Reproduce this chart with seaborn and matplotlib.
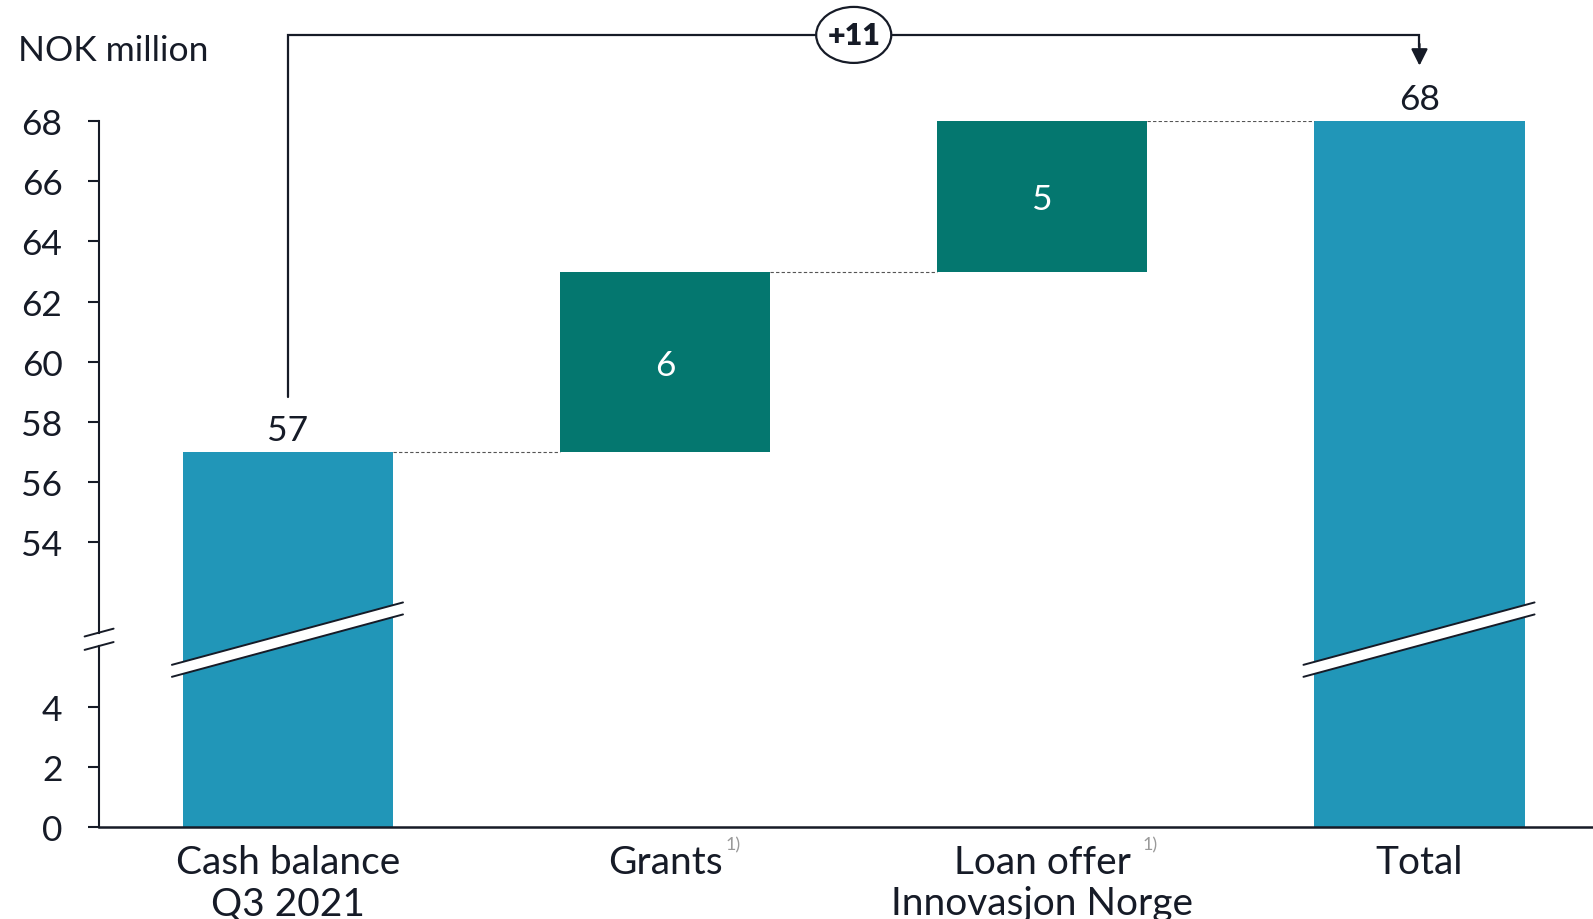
import numpy as np
import pandas as pd
import matplotlib
matplotlib.use("Agg")
import matplotlib.pyplot as plt
import seaborn as sns
from matplotlib.patches import Ellipse, Polygon
from matplotlib.lines import Line2D

# ---------------- data ----------------
categories = ["Cash balance\nQ3 2021", "Grants", "Loan offer\nInnovasjon Norge", "Total"]
values = [57, 6, 5, 68]
kinds = ["total", "delta", "delta", "total"]
value_labels = ["57", "6", "5", "68"]
footnotes = ["", "1)", "1)", ""]
upper_ticks = [54, 56, 58, 60, 62, 64, 66, 68]
lower_ticks = [0, 2, 4]
change_label = "+11"
unit_label = "NOK million"

# ---------------- style ----------------
BLUE = "#2196b8"
GREEN = "#04776f"
DARK = "#161b27"
GREY = "#9a9a9a"

sns.set_theme(style="white")
plt.rcParams['font.family'] = ['Lato', 'DejaVu Sans']

W, H = 1593, 920
fig = plt.figure(figsize=(W / 100, H / 100), dpi=100)

# running totals
tops, bases = [], []
running = 0
for v, k in zip(values, kinds):
    if k == "total":
        bases.append(0)
        tops.append(v)
        running = v
    else:
        bases.append(running)
        running += v
        tops.append(running)

colors = [BLUE if k == "total" else GREEN for k in kinds]
df = pd.DataFrame({"cat": categories, "top": tops, "base": bases})

axis_x = 98.6
split = 640.5
ax_top = fig.add_axes([axis_x / W, 1 - split / H, 1 - axis_x / W, (split - 122) / H])
ax_bot = fig.add_axes([axis_x / W, 1 - 828 / H, 1 - axis_x / W, (828 - split) / H])

bar_w = 0.557
for ax in (ax_top, ax_bot):
    sns.barplot(data=df, x="cat", y="top", hue="cat", palette=colors, width=bar_w,
                saturation=1, legend=False, errorbar=None, linewidth=0, ax=ax)
    sns.barplot(data=df, x="cat", y="base", color="white", width=bar_w,
                saturation=1, errorbar=None, linewidth=0, ax=ax)
    ax.set_xlim(-0.502, 3.46)
    ax.set_xlabel("")
    ax.set_ylabel("")
    for s in ("top", "right"):
        ax.spines[s].set_visible(False)
    ax.spines["left"].set_color(DARK)
    ax.spines["left"].set_linewidth(1.5)
    ax.tick_params(axis="y", left=True, direction="out", length=8, width=1.5,
                   color=DARK, pad=18, labelsize=25.5, labelcolor=DARK)

ax_top.set_ylim(68 - (split - 122) / 30.1, 68)
ax_top.spines["left"].set_bounds(51.0, 68)
ax_top.set_yticks(upper_ticks)
ax_top.set_yticklabels([str(t) for t in upper_ticks])
ax_top.spines["bottom"].set_visible(False)
ax_top.tick_params(axis="x", bottom=False, labelbottom=False)

ax_bot.set_ylim(0, (828 - split) / 30.05)
ax_bot.spines["left"].set_bounds(0, 6.02)
ax_bot.set_yticks(lower_ticks)
ax_bot.set_yticklabels([str(t) for t in lower_ticks])
ax_bot.spines["bottom"].set_color(DARK)
ax_bot.spines["bottom"].set_linewidth(1.8)
ax_bot.tick_params(axis="x", bottom=False, length=0, pad=12, labelsize=28, labelcolor=DARK)
for lab in ax_bot.get_xticklabels():
    lab.set_linespacing(1.2)

# footnote markers
foot_x = {1: 1.159, 2: 2.265}
for i, f in enumerate(footnotes):
    if f:
        ax_bot.text(foot_x[i], -0.57, f, ha="left", va="center", size=13, color=GREY,
                    clip_on=False)

# connectors
for i in range(len(categories) - 1):
    ax_top.plot([i + bar_w / 2, i + 1 - bar_w / 2], [tops[i], tops[i]], color="#555555",
                lw=0.8, ls=(0, (3, 2)), zorder=1)

# value labels
for i, (k, lab) in enumerate(zip(kinds, value_labels)):
    if k == "total":
        ax_top.text(i, tops[i] + 0.4, lab, ha="center", va="baseline", size=25.5, color=DARK)
    else:
        ax_top.text(i, (bases[i] + tops[i]) / 2 - 0.1, lab, ha="center", va="center",
                    size=25.5, color="white")

# bracket with change badge
x0, x1 = 0, len(categories) - 1
y_line = tops[x1] + 2.86
ax_top.plot([x0, x0, x1, x1], [tops[x0] + 1.83, y_line, y_line, y_line - 0.4],
            color=DARK, lw=1.6, clip_on=False, solid_joinstyle="miter")
ax_top.annotate("", xy=(x1, tops[x1] + 1.84), xytext=(x1, y_line - 0.3),
                arrowprops=dict(arrowstyle="-|>,head_length=0.5,head_width=0.25",
                                mutation_scale=20, color=DARK, lw=1.6, shrinkA=0, shrinkB=0),
                annotation_clip=False)
xm = (x0 + x1) / 2
ax_top.add_patch(Ellipse((xm, y_line), 0.199, 1.86, facecolor="white", edgecolor=DARK,
                         lw=1.6, clip_on=False, zorder=5))
ax_top.text(xm, y_line, change_label, ha="center", va="center", size=22,
            fontweight="heavy", color=DARK, zorder=6)

fig.text(18 / W, 1 - 51 / H, unit_label, ha="left", va="center", size=25.5, color=DARK)

# ---------------- break marks ----------------
fig.canvas.draw()
to_fig = fig.transFigure.inverted()
slope = 0.27
yc = ax_top.get_window_extent().y0
half_gap = 6
for i, k in enumerate(kinds):
    if k != "total":
        continue
    xl = ax_top.transData.transform((i - bar_w / 2, 0))[0] - 11
    xr = ax_top.transData.transform((i + bar_w / 2, 0))[0] + 10
    xc = ax_top.transData.transform((i, 0))[0]
    def yl(x, d):
        return yc + slope * (x - xc) + d
    pts = [(xl, yl(xl, half_gap)), (xr, yl(xr, half_gap)),
           (xr, yl(xr, -half_gap)), (xl, yl(xl, -half_gap))]
    pts_f = to_fig.transform(pts)
    fig.add_artist(Polygon(pts_f, closed=True, facecolor="white", edgecolor="none",
                           transform=fig.transFigure, zorder=10))
    for d in (half_gap, -half_gap):
        p = to_fig.transform([(xl, yl(xl, d)), (xr, yl(xr, d))])
        fig.add_artist(Line2D(p[:, 0], p[:, 1], color=DARK, lw=1.4,
                              transform=fig.transFigure, zorder=11))

ax_px = ax_top.get_window_extent().x0
y_top_end = ax_top.transData.transform((0, 51.0))[1]
y_bot_end = ax_bot.transData.transform((0, 6.02))[1]
for yb in (y_top_end, y_bot_end):
    p = to_fig.transform([(ax_px - 14, yb - slope * 14), (ax_px + 15, yb + slope * 15)])
    fig.add_artist(Line2D(p[:, 0], p[:, 1], color=DARK, lw=1.4,
                          transform=fig.transFigure, zorder=11))

fig.savefig("out.png", dpi=100)
